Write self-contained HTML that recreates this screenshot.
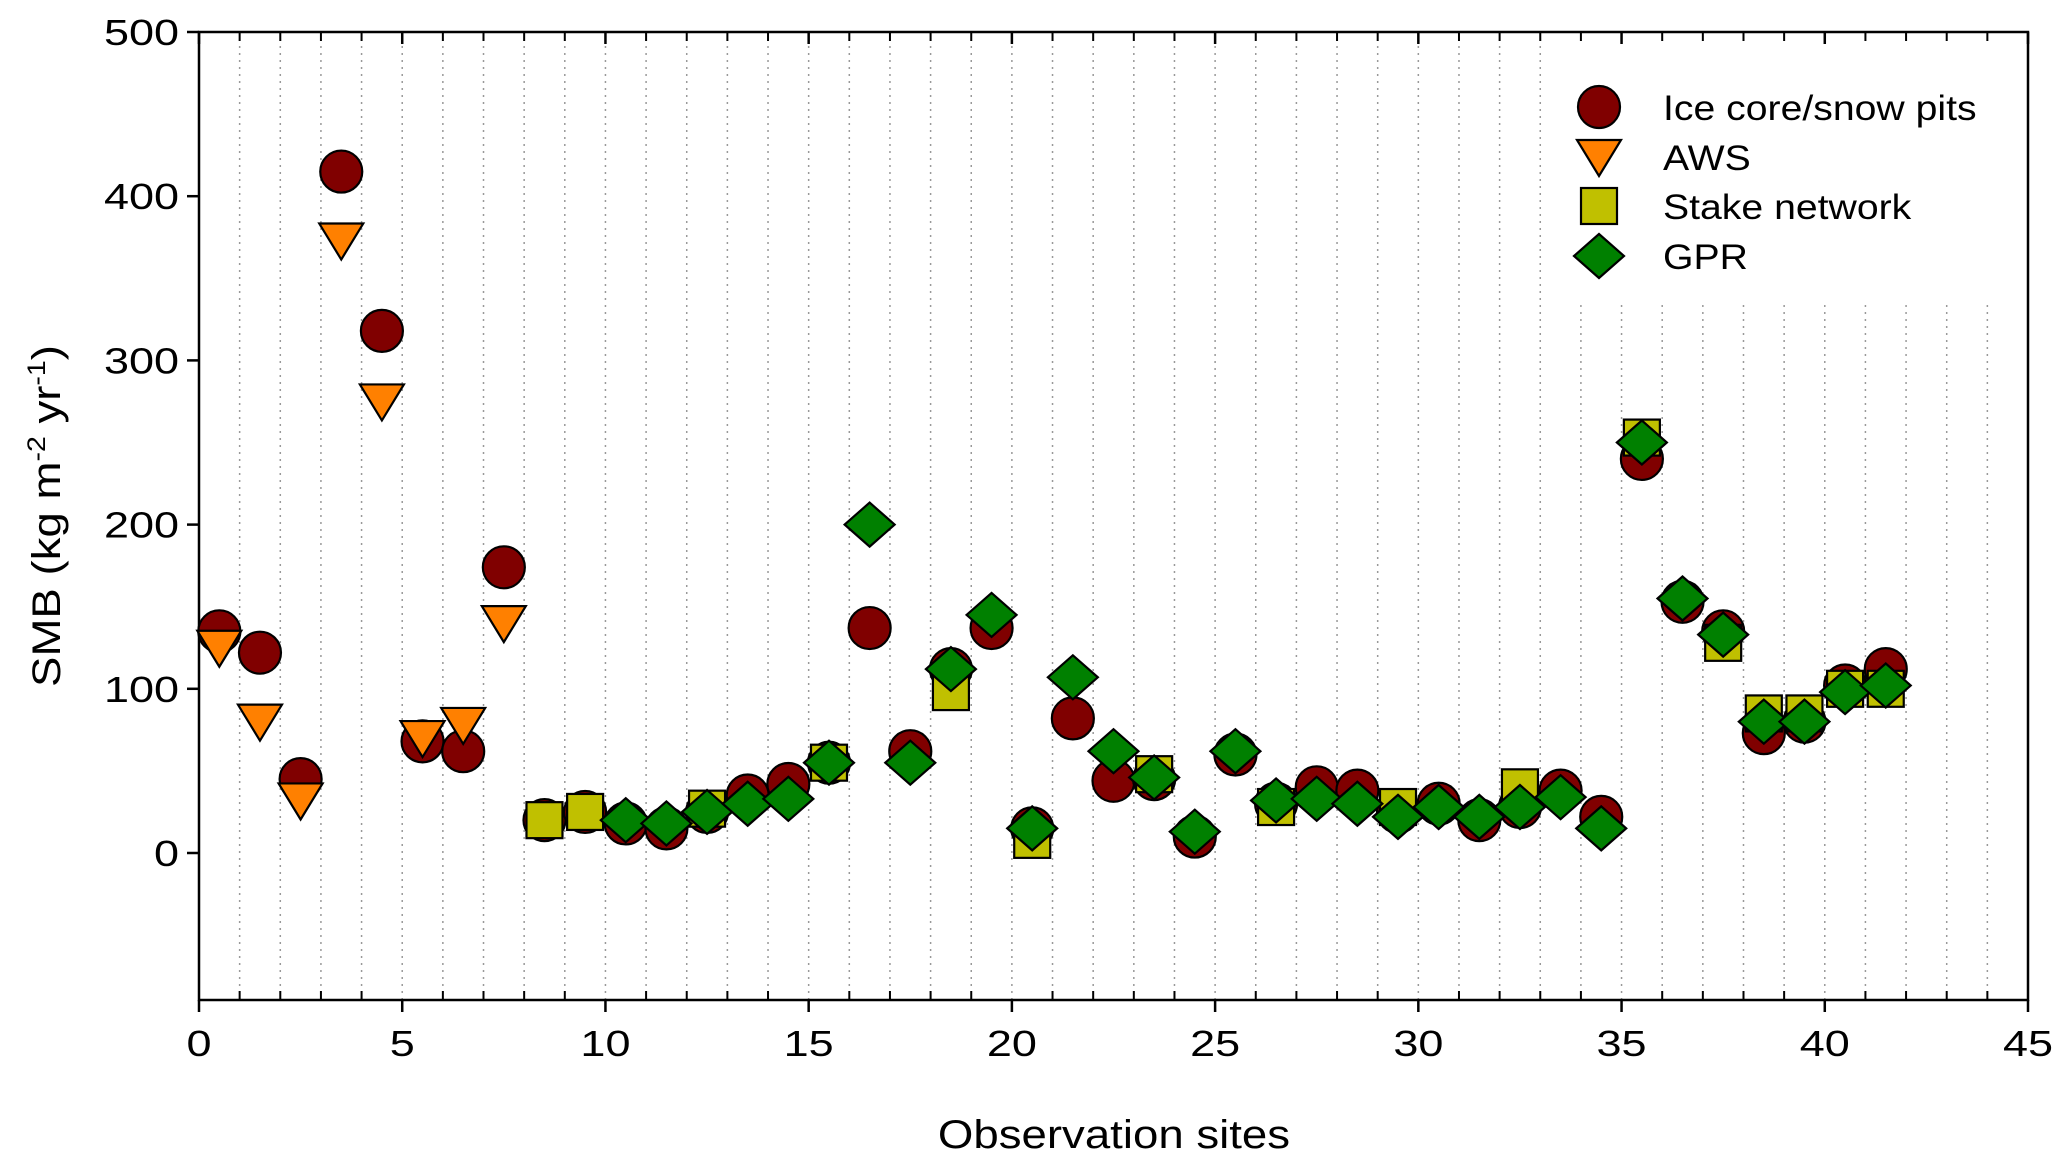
<!DOCTYPE html>
<html><head><meta charset="utf-8"><style>
html,body{margin:0;padding:0;background:#fff;}
svg{display:block;font-family:"Liberation Sans",Arial,sans-serif;}
</style></head><body>
<svg id="chart" width="2067" height="1169" viewBox="0 0 2067 1169" xmlns="http://www.w3.org/2000/svg"></svg>
<script>
const xTicks = [0,5,10,15,20,25,30,35,40,45];
const yTicks = [0,100,200,300,400,500];
const iceX = [0.5,1.5,2.5,3.5,4.5,5.5,6.5,7.5,8.5,9.5,10.5,11.5,12.5,13.5,14.5,15.5,16.5,17.5,18.5,19.5,20.5,21.5,22.5,23.5,24.5,25.5,26.5,27.5,28.5,29.5,30.5,31.5,32.5,33.5,34.5,35.5,36.5,37.5,38.5,39.5,40.5,41.5];
const iceY = [135,122,45,415,318,68,62,174,20,25,18,15,25,35,42,55,137,62,112,137,15,82,44,45,10,60,30,40,38,25,30,20,28,38,22,240,153,135,73,80,102,112];
const awsX = [0.5,1.5,2.5,3.5,4.5,5.5,6.5,7.5];
const awsY = [125,80,32,373,275,70,78,140];
const stakeX = [8.5,9.5,12.5,15.5,18.5,20.5,23.5,26.5,29.5,32.5,35.5,37.5,38.5,39.5,40.5,41.5];
const stakeY = [20,25,27,55,98,8,48,28,28,40,253,128,85,85,100,100];
const gprX = [10.5,11.5,12.5,13.5,14.5,15.5,16.5,17.5,18.5,19.5,20.5,21.5,22.5,23.5,24.5,25.5,26.5,27.5,28.5,29.5,30.5,31.5,32.5,33.5,34.5,35.5,36.5,37.5,38.5,39.5,40.5,41.5];
const gprY = [20,18,25,30,33,55,200,55,112,145,15,107,62,46,13,62,32,33,30,22,28,22,28,34,15,250,155,133,80,80,98,102];

const L=199,R=2028,T=32,B=1000,Y0=853,Y500=32;
const sx=v=>L+(R-L)*v/45;
const sy=v=>Y0+(Y500-Y0)*v/500;
const svg=document.getElementById('chart');
const NS='http://www.w3.org/2000/svg';
function mk(tag,attrs,parent){const e=document.createElementNS(NS,tag);for(const k in attrs)e.setAttribute(k,attrs[k]);(parent||svg).appendChild(e);return e;}
function stext(x,y,anchor,size,sxf,str,parent){
  const t=mk('text',{x:0,y:0,'text-anchor':anchor,'font-size':size,transform:`translate(${x},${y}) scale(${sxf},1)`},parent);
  t.textContent=str;return t;
}

const grid=mk('g',{});


for(let i=1;i<45;i++){
  const x=sx(i);
  const inLegend = x>1555 && x<2000;
  mk('line',{x1:x,x2:x,y1:inLegend?305:T,y2:B,stroke:'#999','stroke-width':1.5,'stroke-dasharray':'2 5'},grid);
}
const frame=mk('rect',{x:L,y:T,width:R-L,height:B-T,fill:'none',stroke:'#000','stroke-width':2.5});


for(let i=1;i<45;i++){
  const x=sx(i);
  if(i%5!==0){mk('line',{x1:x,x2:x,y1:T,y2:T+9,stroke:'#000','stroke-width':2});mk('line',{x1:x,x2:x,y1:B,y2:B-9,stroke:'#000','stroke-width':2});}
}
const xg=mk('g',{});


xTicks.forEach(v=>{const x=sx(v);
  mk('line',{x1:x,x2:x,y1:B,y2:B+12,stroke:'#000','stroke-width':2.5},xg);
  mk('line',{x1:x,x2:x,y1:T,y2:T+12,stroke:'#000','stroke-width':2.5},xg);
  const t=stext(x,B+56,'middle',36,1.25,String(v),xg);
  
  
});
const yg=mk('g',{});


yTicks.forEach(v=>{const y=sy(v);
  mk('line',{x1:L-12,x2:L,y1:y,y2:y,stroke:'#000','stroke-width':2.5},yg);
  const t=stext(L-20,y+13,'end',36,1.25,String(v),yg);
  
  
});
const xt=stext(1114,1148,'middle',40,1.14,'Observation sites');


const yt=mk('text',{x:0,y:0,'text-anchor':'middle','font-size':40,transform:'translate(60,516) rotate(-90) scale(1.14,1)'});
yt.innerHTML='SMB (kg m<tspan dy="-15" font-size="25">-2</tspan><tspan dy="15"> yr</tspan><tspan dy="-15" font-size="25">-1</tspan><tspan dy="15">)</tspan>';



function circle(x,y,g){return mk('circle',{cx:x,cy:y,r:21,fill:'#800000',stroke:'#000','stroke-width':2.2},g);}
function tri(x,y,g){return mk('polygon',{points:`${x-22},${y-17} ${x+22},${y-17} ${x},${y+19}`,fill:'#ff8000',stroke:'#000','stroke-width':2.2},g);}
function sq(x,y,g){return mk('rect',{x:x-18,y:y-18,width:36,height:36,fill:'#c0c000',stroke:'#000','stroke-width':2.2},g);}
function dia(x,y,g){return mk('polygon',{points:`${x-25},${y} ${x},${y-22} ${x+25},${y} ${x},${y+22}`,fill:'#008000',stroke:'#000','stroke-width':2.2},g);}

const series=[['ice-core-series',iceX,iceY,circle],['aws-series',awsX,awsY,tri],['stake-series',stakeX,stakeY,sq],['gpr-series',gprX,gprY,dia]];
series.forEach(([name,xs,ys,fn])=>{
  const g=mk('g',{});
  
  
  xs.forEach((v,i)=>{const m=fn(sx(v),sy(ys[i]),g);
    
    
  });
});

const lg=mk('g',{});


const labels=['Ice core/snow pits','AWS','Stake network','GPR'];
const fns=[circle,tri,sq,dia];
const rows=[107,157,206,256];
labels.forEach((lab,i)=>{
  const e=mk('g',{},lg);
  
  
  fns[i](1599,rows[i],e);
  stext(1663,rows[i]+13,'start',35,1.12,lab,e);
});
</script>
</body></html>
